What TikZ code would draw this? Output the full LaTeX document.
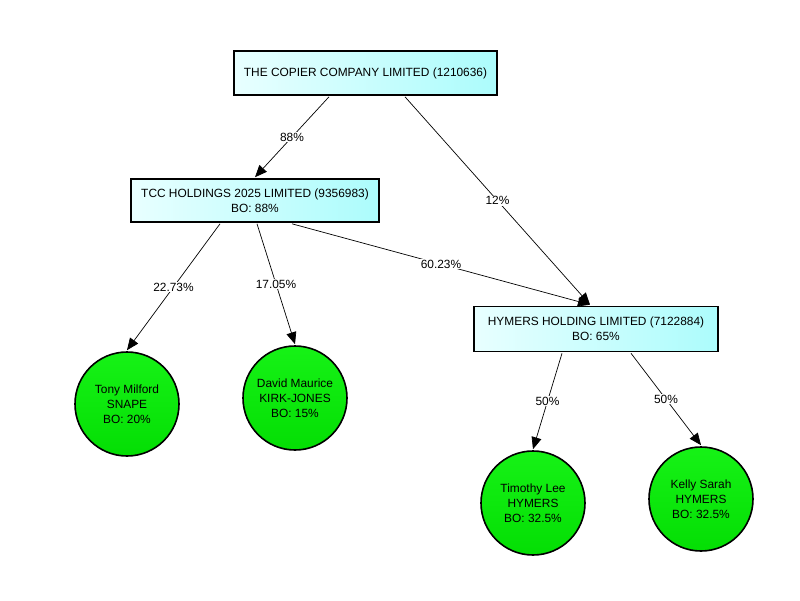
\documentclass[tikz,border=0pt]{standalone}
\usepackage{fontspec}
\setmainfont{Liberation Sans}
\usetikzlibrary{arrows.meta}
\definecolor{boxL}{HTML}{E8FFFF}
\definecolor{boxR}{HTML}{ACFCFC}
\definecolor{grnT}{HTML}{16F216}
\definecolor{grnB}{HTML}{04DE04}
\tikzset{
  company/.style={draw=black, line width=1.6pt, left color=boxL, right color=boxR,
    minimum height=44pt, inner sep=0pt, align=center, font=\fontsize{11.9}{15}\selectfont},
  person/.style={circle, draw=black, line width=1.6pt, top color=grnT, bottom color=grnB,
    minimum size=104pt, inner sep=0pt, align=center, font=\fontsize{11.9}{15}\selectfont},
  link/.style={draw=black, line width=0.7pt, -{Triangle[length=12pt,width=10pt]}},
  pct/.style={fill=white, inner sep=1pt, font=\fontsize{11.9}{13}\selectfont}
}
\begin{document}
\begin{tikzpicture}[x=1pt,y=-1pt]
\useasboundingbox (0,0) rectangle (800,600);
\node[company, minimum width=263pt] (tcc) at (365.5,73) {THE COPIER COMPANY LIMITED (1210636)};
\node[company, minimum width=248pt, minimum height=43pt] (hold) at (255,200.5) {TCC HOLDINGS 2025 LIMITED (9356983)\\BO: 88\%};
\node[company, minimum width=244pt, minimum height=45pt] (hym) at (596,329) {HYMERS HOLDING LIMITED (7122884)\\BO: 65\%};
\node[person] (tony) at (127,404) {Tony Milford\\SNAPE\\BO: 20\%};
\node[person] (david) at (295,398) {David Maurice\\KIRK-JONES\\BO: 15\%};
\node[person] (tim) at (533,503) {Timothy Lee\\HYMERS\\BO: 32.5\%};
\node[person] (kelly) at (701,499) {Kelly Sarah\\HYMERS\\BO: 32.5\%};

\coordinate (tccA) at ([xshift=-36.5pt,yshift=-1pt]tcc.south);
\coordinate (tccB) at ([xshift=39.5pt,yshift=-1pt]tcc.south);
\coordinate (holdA) at ([xshift=-35pt,yshift=-1pt]hold.south);
\coordinate (holdB) at ([xshift=2pt,yshift=-1pt]hold.south);
\coordinate (holdC) at ([xshift=37pt,yshift=-1pt]hold.south);
\coordinate (hymIn) at ([xshift=-6pt,yshift=1pt]hym.north);
\coordinate (hymA) at ([xshift=-34pt,yshift=-1pt]hym.south);
\coordinate (hymB) at ([xshift=35pt,yshift=-1pt]hym.south);

\draw[link] (tccA) -- node[pct] {88\%} ([yshift=1pt]hold.north);
\draw[link] (tccB) -- node[pct] {12\%} (hymIn);
\draw[link] (holdA) -- node[pct] {22.73\%} ([yshift=1pt]tony.north);
\draw[link] (holdB) -- node[pct] {17.05\%} ([yshift=1pt]david.north);
\draw[link] (holdC) -- node[pct] {60.23\%} (hymIn);
\draw[link] (hymA) -- node[pct] {50\%} ([yshift=1pt]tim.north);
\draw[link] (hymB) -- node[pct] {50\%} ([yshift=1pt]kelly.north);
\end{tikzpicture}
\end{document}
